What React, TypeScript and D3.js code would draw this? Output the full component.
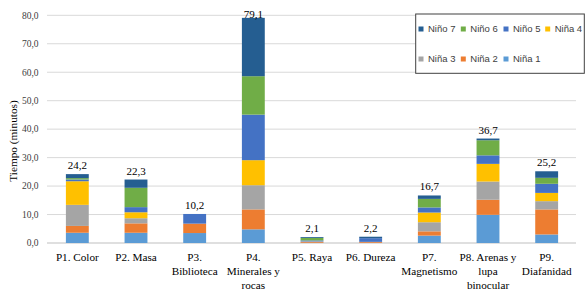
import React from "react";
import * as d3 from "d3";

const categories = [
  ["P1. Color"],
  ["P2. Masa"],
  ["P3.", "Biblioteca"],
  ["P4.", "Minerales y", "rocas"],
  ["P5. Raya"],
  ["P6. Dureza"],
  ["P7.", "Magnetismo"],
  ["P8. Arenas y", "lupa", "binocular"],
  ["P9.", "Diafanidad"],
];

const seriesNames = ["Niña 1", "Niña 2", "Niña 3", "Niña 4", "Niño 5", "Niño 6", "Niño 7"];
const seriesColors = ["#5B9BD5", "#ED7D31", "#A5A5A5", "#FFC000", "#4472C4", "#70AD47", "#255E91"];

const nina1 = [3.6, 3.6, 3.5, 4.8, 0.0, 0.0, 2.6, 9.9, 3.0];
const nina2 = [2.4, 3.3, 3.3, 7.0, 0.3, 0.3, 1.5, 5.3, 8.8];
const nina3 = [7.4, 1.8, 0.0, 8.5, 0.3, 0.1, 3.2, 6.4, 2.9];
const nina4 = [8.3, 2.1, 0.0, 8.8, 0.0, 0.0, 3.4, 6.2, 2.9];
const nino5 = [0.6, 1.8, 3.4, 16.0, 0.3, 1.3, 1.8, 3.0, 3.2];
const nino6 = [0.5, 6.8, 0.0, 13.5, 0.9, 0.0, 3.0, 5.3, 2.1];
const nino7 = [1.4, 2.9, 0.0, 20.5, 0.3, 0.5, 1.2, 0.6, 2.3];

const seriesValues = [nina1, nina2, nina3, nina4, nino5, nino6, nino7];
const yTicks = [0, 10, 20, 30, 40, 50, 60, 70, 80];

const legendRows = [
  ["Niño 7", "Niño 6", "Niño 5", "Niña 4"],
  ["Niña 3", "Niña 2", "Niña 1"],
];

const W = 586;
const H = 299;
const left = 48;
const right = 576;
const top = 15.3;
const bottom = 243;

export default function App() {
  const x = d3
    .scaleBand<number>()
    .domain(categories.map((_, i) => i))
    .range([left, right])
    .paddingInner(0.61)
    .paddingOuter(0.305);
  const y = d3.scaleLinear().domain([0, 80]).range([bottom, top]);

  const rows = categories.map((_, i) => {
    const r: any = { i };
    seriesNames.forEach((n, k) => (r[n] = seriesValues[k][i]));
    return r;
  });
  const stack = d3.stack<any>().keys(seriesNames)(rows);
  const totals = categories.map((_, i) =>
    Math.round(seriesValues.reduce((s, arr) => s + arr[i], 0) * 10) / 10
  );
  const fmt = (v: number) => v.toFixed(1).replace(".", ",");
  const serif = "'Liberation Serif', 'Times New Roman', serif";
  const sans = "'Liberation Sans', Arial, sans-serif";

  const legendX = [421, 463.3, 506, 547.7];
  const legendY = [29, 59];

  return (
    <svg
      width={W}
      height={H}
      style={{ position: "absolute", left: 0, top: 0, background: "#fff" }}
    >
      <rect x={0} y={0} width={W} height={H} fill="#fff" />
      {yTicks.map((t) => (
        <g key={t}>
          <line
            x1={left - 1}
            x2={right}
            y1={y(t)}
            y2={y(t)}
            stroke={t === 0 ? "#bfbfbf" : "#d9d9d9"}
            strokeWidth={1}
          />
          <text
            x={38.5}
            y={y(t)}
            dy="0.35em"
            textAnchor="end"
            fontFamily={serif}
            fontSize={9.5}
            fill="#404040"
          >
            {fmt(t)}
          </text>
        </g>
      ))}
      <text
        transform={`translate(13,141) rotate(-90)`}
        textAnchor="middle"
        fontFamily={serif}
        fontSize={11.3}
        fill="#000"
        dy="0.35em"
      >
        Tiempo (minutos)
      </text>
      {stack.map((s, k) => (
        <g key={s.key} fill={seriesColors[k]}>
          {s.map((d, i) =>
            d[1] - d[0] > 0 ? (
              <rect
                key={i}
                x={x(i)}
                width={x.bandwidth()}
                y={y(d[1])}
                height={y(d[0]) - y(d[1])}
              />
            ) : null
          )}
        </g>
      ))}
      {totals.map((t, i) => (
        <text
          key={i}
          x={(x(i) as number) + x.bandwidth() / 2}
          y={Math.max(y(t) - 5, 17.5)}
          textAnchor="middle"
          fontFamily={serif}
          fontSize={11}
          fill="#000"
        >
          {fmt(t)}
        </text>
      ))}
      {categories.map((lines, i) => (
        <text
          key={i}
          x={(x(i) as number) + x.bandwidth() / 2}
          y={261}
          textAnchor="middle"
          fontFamily={serif}
          fontSize={11.2}
          fill="#000"
        >
          {lines.map((l, j) => (
            <tspan key={j} x={(x(i) as number) + x.bandwidth() / 2} dy={j === 0 ? 0 : 13.8}>
              {l}
            </tspan>
          ))}
        </text>
      ))}
      <rect x={415.7} y={14} width={168.6} height={59.3} fill="#fff" stroke="#404040" strokeWidth={1} />
      {legendRows.map((row, r) =>
        row.map((name, c) => {
          const k = seriesNames.indexOf(name);
          return (
            <g key={name}>
              <rect
                x={legendX[c] - 2.5}
                y={legendY[r] - 2.5}
                width={5}
                height={5}
                fill={seriesColors[k]}
              />
              <text
                x={legendX[c] + 7}
                y={legendY[r]}
                dy="0.35em"
                fontFamily={sans}
                fontSize={9.5}
                fill="#404040"
              >
                {name}
              </text>
            </g>
          );
        })
      )}
    </svg>
  );
}
